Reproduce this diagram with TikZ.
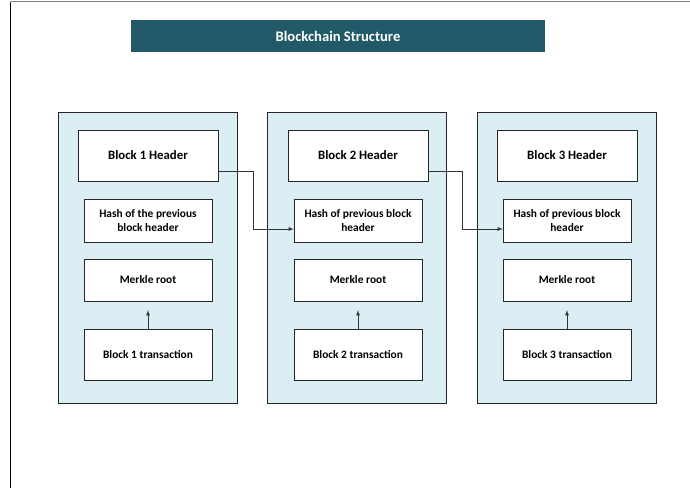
\documentclass[tikz,border=0pt]{standalone}
\usepackage{fontspec}
\setmainfont{Carlito}
\begin{document}
\begin{tikzpicture}[
  x=1pt, y=-1pt,
  >=latex,
  chain/.style={rectangle, draw=black!85, fill=blockblue, minimum width=179pt, minimum height=291pt, inner sep=0pt},
  header/.style={rectangle, draw=black!85, fill=white, minimum width=140pt, minimum height=51pt, inner sep=0pt, font=\bfseries\fontsize{12.8}{15}\selectfont},
  field/.style={rectangle, draw=black!85, fill=white, minimum width=128pt, inner sep=0pt, align=center, font=\bfseries\fontsize{11.4}{14}\selectfont},
  link/.style={->, draw=black!80, line width=0.8pt}
]
\definecolor{blockblue}{HTML}{DAEEF3}
\definecolor{titleteal}{HTML}{215968}
\useasboundingbox (0,0) rectangle (690,488);

% Frame
\draw[black!50, line width=1.2pt] (10.5,1.7) -- (690,1.7);
\draw[black, line width=1pt] (10.5,1.7) -- (10.5,488);

% Title
\node[fill=titleteal, text=white, minimum width=414pt, minimum height=32pt, inner sep=0pt, font=\bfseries\fontsize{14.6}{17}\selectfont] (title) at (338,36) {Blockchain Structure};

% Blocks
\node[chain] (block1) at (148,257.5) {};
\node[chain] (block2) at (357,257.5) {};
\node[chain] (block3) at (567,257.5) {};

\node[header] (head1) at (148,155.5) {Block 1 Header};
\node[header] (head2) at (358,155.5) {Block 2 Header};
\node[header] (head3) at (567,155.5) {Block 3 Header};

\node[field, minimum height=43pt] (hash1) at (148,220.5) {Hash of the previous\\block header};
\node[field, minimum height=43pt] (hash2) at (358,220.5) {Hash of previous block\\header};
\node[field, minimum height=43pt] (hash3) at (567,220.5) {Hash of previous block\\header};

\node[field, minimum height=42pt] (merkle1) at (148,280) {Merkle root};
\node[field, minimum height=42pt] (merkle2) at (358,280) {Merkle root};
\node[field, minimum height=42pt] (merkle3) at (567,280) {Merkle root};

\node[field, minimum height=51pt] (trans1) at (148,354.5) {Block 1 transaction};
\node[field, minimum height=51pt] (trans2) at (358,354.5) {Block 2 transaction};
\node[field, minimum height=51pt] (trans3) at (567,354.5) {Block 3 transaction};

% Arrows
\foreach \i in {1,2,3}
  \draw[link, shorten >=9pt] (trans\i) -- (merkle\i);
\draw[link] ([yshift=-15.5pt]head1.east) -- ++(35,0) |- ([yshift=-8.5pt]hash2.west);
\draw[link] ([yshift=-15.5pt]head2.east) -- ++(34,0) |- ([yshift=-8.5pt]hash3.west);
\end{tikzpicture}
\end{document}
